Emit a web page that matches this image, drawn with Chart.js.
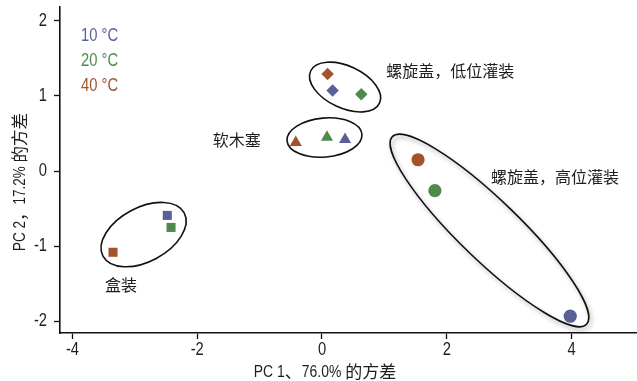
<!DOCTYPE html>
<html>
<head>
<meta charset="utf-8">
<script src="https://cdn.jsdelivr.net/npm/chart.js@4.4.1/dist/chart.umd.min.js"></script>
<style>
  html, body { margin: 0; padding: 0; background: #ffffff; }
  #wrap { width: 637px; height: 381px; position: relative; }
</style>
</head>
<body>
<div id="wrap"><canvas id="pca"></canvas></div>
<script>
// Packaging groups (one marker shape per group) and storage temperatures
const packaging = ['盒装', '软木塞', '螺旋盖，低位灌装', '螺旋盖，高位灌装'];
const markerShapes = ['rect', 'triangle', 'rectRot', 'circle'];
const temperatures = ['10 °C', '20 °C', '40 °C'];

// PCA scores, ordered as in `packaging`
const pc1_10C = [-2.48, 0.37, 0.17, 3.98];
const pc2_10C = [-0.59, 0.42, 1.07, -1.93];
const pc1_20C = [-2.42, 0.08, 0.63, 1.81];
const pc2_20C = [-0.75, 0.45, 1.02, -0.26];
const pc1_40C = [-3.35, -0.42, 0.09, 1.54];
const pc2_40C = [-1.08, 0.38, 1.29, 0.15];

// Axis ticks and titles
const xTicks = [-4, -2, 0, 2, 4];
const yTicks = [-2, -1, 0, 1, 2];
const xTitle = 'PC 1、76.0% 的方差';
const yTitle = 'PC 2，17.2% 的方差';

const tempColors = ['#5b5f97', '#4e8a4e', '#a3522e'];
const shapeRadius = { rect: 6.4, triangle: 7, rectRot: 6.2, circle: 6.6 };

const SANS = "'Liberation Sans', Arial, sans-serif";
const CJK = "'Noto Sans CJK SC', sans-serif";
const NARROW = 0.82; // horizontal squeeze giving a narrow sans face
const TEXT = '#1e1e1e';

function series(label, xs, ys, color) {
  return {
    label,
    data: xs.map((x, i) => ({ x, y: ys[i] })),
    pointStyle: markerShapes,
    pointRadius: markerShapes.map(s => shapeRadius[s]),
    pointHoverRadius: markerShapes.map(s => shapeRadius[s]),
    backgroundColor: color,
    borderColor: color,
    pointBorderWidth: 0,
    showLine: false
  };
}

// Outline around each packaging group: centre in data units, semi-axes in px, tilt in degrees
const groupOutlines = [
  { cx: -2.86, cy: -0.845, a: 46, b: 27, angle: -28, shadow: false },
  { cx: 0.04, cy: 0.445, a: 37.6, b: 19.5, angle: -5, shadow: false },
  { cx: 0.37, cy: 1.116, a: 38, b: 21, angle: 25, shadow: false },
  { cx: 2.685, cy: -0.79, a: 135, b: 30, angle: 44, shadow: true }
];
// Group name anchors (left edge, vertical middle) in data units
const groupLabelAt = [
  { x: -3.48, y: -1.515 },
  { x: -1.75, y: 0.41 },
  { x: 1.03, y: 1.33 },
  { x: 2.71, y: -0.08 }
];

// Split a string into runs of CJK / non-CJK characters
function runs(text) {
  const out = [];
  for (const ch of text) {
    const cjk = /[\u3000-\u303f\u4e00-\u9fff\uff00-\uffef]/.test(ch);
    if (out.length && out[out.length - 1].cjk === cjk) out[out.length - 1].t += ch;
    else out.push({ t: ch, cjk });
  }
  return out;
}

// Mixed text: Latin runs in the narrow face, CJK runs at normal width
function mixedWidth(ctx, text, size) {
  let w = 0;
  runs(text).forEach(r => {
    ctx.font = size + 'px ' + (r.cjk ? CJK : SANS);
    w += ctx.measureText(r.t).width * (r.cjk ? 1 : NARROW);
  });
  return w;
}
function drawMixed(ctx, text, x, y, size, align) {
  const w = mixedWidth(ctx, text, size);
  let cx = align === 'center' ? x - w / 2 : align === 'right' ? x - w : x;
  ctx.save();
  ctx.textAlign = 'left';
  ctx.textBaseline = 'middle';
  runs(text).forEach(r => {
    ctx.font = size + 'px ' + (r.cjk ? CJK : SANS);
    const k = r.cjk ? 1 : NARROW;
    ctx.save();
    ctx.translate(cx, y);
    ctx.scale(k, 1);
    ctx.fillText(r.t, 0, 0);
    ctx.restore();
    cx += ctx.measureText(r.t).width * k;
  });
  ctx.restore();
}

const outlinePlugin = {
  id: 'groupOutlines',
  beforeDatasetsDraw(chart) {
    const { ctx, scales: { x, y } } = chart;
    groupOutlines.forEach(o => {
      ctx.save();
      if (o.shadow) {
        ctx.shadowColor = 'rgba(0,0,0,0.35)';
        ctx.shadowBlur = 4;
        ctx.shadowOffsetX = 2;
        ctx.shadowOffsetY = 3;
      }
      ctx.beginPath();
      ctx.ellipse(x.getPixelForValue(o.cx), y.getPixelForValue(o.cy), o.a, o.b,
        o.angle * Math.PI / 180, 0, Math.PI * 2);
      ctx.lineWidth = 1.6;
      ctx.strokeStyle = '#111111';
      ctx.stroke();
      ctx.restore();
    });
  },
  afterDraw(chart) {
    const { ctx, scales: { x, y }, chartArea } = chart;
    ctx.save();
    // group names
    ctx.font = '16px ' + CJK;
    ctx.fillStyle = TEXT;
    ctx.textAlign = 'left';
    ctx.textBaseline = 'middle';
    packaging.forEach((name, i) => {
      ctx.fillText(name, x.getPixelForValue(groupLabelAt[i].x), y.getPixelForValue(groupLabelAt[i].y));
    });
    // tick labels
    xTicks.forEach(v => drawMixed(ctx, String(v), x.getPixelForValue(v), chartArea.bottom + 17, 18, 'center'));
    yTicks.forEach(v => drawMixed(ctx, String(v), chartArea.left - 13, y.getPixelForValue(v), 18, 'right'));
    // temperature key, coloured text
    chart.data.datasets.forEach((ds, i) => {
      ctx.fillStyle = ds.backgroundColor;
      drawMixed(ctx, ds.label, 81, 36 + i * 25, 18, 'left');
    });
    // axis titles
    ctx.fillStyle = TEXT;
    drawMixed(ctx, xTitle, 325, 372, 17, 'center');
    ctx.translate(20, 182);
    ctx.rotate(-Math.PI / 2);
    drawMixed(ctx, yTitle, 0, 0, 16.5, 'center');
    ctx.restore();
  }
};

new Chart(document.getElementById('pca'), {
  type: 'scatter',
  data: {
    datasets: [
      series(temperatures[0], pc1_10C, pc2_10C, tempColors[0]),
      series(temperatures[1], pc1_20C, pc2_20C, tempColors[1]),
      series(temperatures[2], pc1_40C, pc2_40C, tempColors[2])
    ]
  },
  options: {
    responsive: true,
    maintainAspectRatio: false,
    animation: false,
    layout: { autoPadding: false, padding: { top: 7, right: 0, left: 0, bottom: 0 } },
    plugins: { legend: { display: false }, tooltip: { enabled: false } },
    scales: {
      x: {
        type: 'linear',
        min: -4.2,
        max: 5.05,
        afterBuildTicks: s => { s.ticks = xTicks.map(v => ({ value: v })); },
        afterFit: s => { s.height = 48; s.paddingLeft = 0; s.paddingRight = 0; },
        grid: { drawOnChartArea: false, drawTicks: true, tickLength: 6, tickColor: '#111', tickWidth: 1.3 },
        border: { display: true, color: '#111', width: 1.6 },
        ticks: { display: false }
      },
      y: {
        type: 'linear',
        min: -2.153,
        max: 2.18,
        afterBuildTicks: s => { s.ticks = yTicks.map(v => ({ value: v })); },
        afterFit: s => { s.width = 60; s.paddingTop = 0; s.paddingBottom = 0; },
        grid: { drawOnChartArea: false, drawTicks: true, tickLength: 6, tickColor: '#111', tickWidth: 1.3 },
        border: { display: true, color: '#111', width: 1.6 },
        ticks: { display: false }
      }
    }
  },
  plugins: [outlinePlugin]
});
</script>
</body>
</html>
